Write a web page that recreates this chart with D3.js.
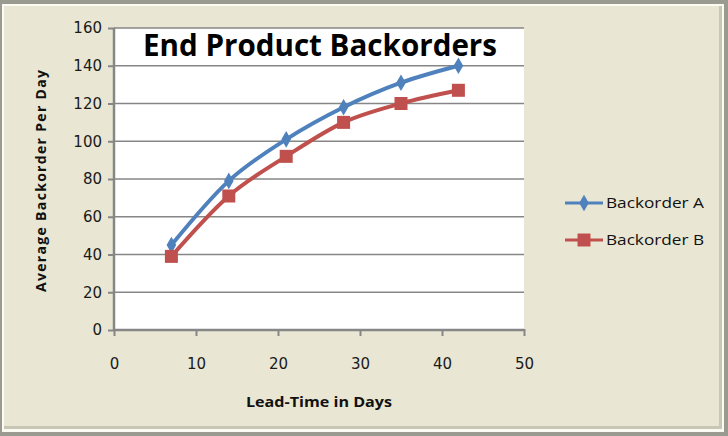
<!DOCTYPE html>
<html>
<head>
<meta charset="utf-8">
<script src="https://cdn.jsdelivr.net/npm/d3@7"></script>
<style>
  body { margin: 0; background: #fff; }
  text { font-family: "Open Sans", "DejaVu Sans", sans-serif; }
</style>
</head>
<body>
<div class="canvas"></div>
<script>
var W = 728, H = 436;
var margin = {top: 28, right: 204, bottom: 106, left: 114},
    width = W - margin.left - margin.right,
    height = H - margin.top - margin.bottom;

// data
var days = [7, 14, 21, 28, 35, 42];
var backorderA = [45, 79, 101, 118, 131, 140];
var backorderB = [39, 71, 92, 110, 120, 127];
var seriesNames = ["Backorder A", "Backorder B"];
var xTicks = [0, 10, 20, 30, 40, 50];
var yTicks = [0, 20, 40, 60, 80, 100, 120, 140, 160];

var colors = ["#4f81bd", "#c0504d"];

var svg = d3.select(".canvas").append("svg")
    .attr("width", W)
    .attr("height", H);

// frame
svg.append("rect").attr("x", 0).attr("y", 0).attr("width", W).attr("height", H)
    .attr("fill", "#9a9a90");
svg.append("rect").attr("x", 2).attr("y", 4).attr("width", W - 6).attr("height", H - 8)
    .attr("fill", "#fbfaf3");
svg.append("rect").attr("x", 4).attr("y", 6).attr("width", W - 10).attr("height", H - 13)
    .attr("fill", "#c8c6b4");
svg.append("rect").attr("x", 4).attr("y", 6).attr("width", W - 13).attr("height", H - 16)
    .attr("fill", "#e9e7d3");

var g = svg.append("g")
    .attr("transform", "translate(" + margin.left + "," + margin.top + ")");

var x = d3.scaleLinear().domain([0, 50]).range([0, width]);
var y = d3.scaleLinear().domain([0, 160]).range([height, 0]);

g.append("rect")
    .attr("width", width)
    .attr("height", height)
    .attr("fill", "#fff");

// gridlines
g.selectAll(".grid").data(yTicks.slice(1))
  .enter().append("line")
    .attr("class", "grid")
    .attr("x1", 0).attr("x2", width)
    .attr("y1", function(d) { return y(d); })
    .attr("y2", function(d) { return y(d); })
    .style("stroke", "#868686")
    .style("stroke-width", "1.5px");

var xAxis = g.append("g")
    .attr("transform", "translate(0," + height + ")")
    .call(d3.axisBottom(x).tickValues(xTicks).tickSize(6).tickPadding(22));
var yAxis = g.append("g")
    .call(d3.axisLeft(y).tickValues(yTicks).tickSize(6).tickPadding(6));

[xAxis, yAxis].forEach(function(a) {
  a.select(".domain").remove();
  a.selectAll("line").style("stroke", "#868686").style("stroke-width", "2px");
  a.selectAll("text").style("font-size", "15px").style("fill", "#1a1a1a")
    .style("font-family", "'DejaVu Sans', sans-serif");
});
xAxis.selectAll(".tick line").attr("y1", -1);
yAxis.selectAll(".tick line").attr("x1", 1);

g.append("line").attr("x1", 0).attr("x2", width).attr("y1", height).attr("y2", height)
    .style("stroke", "#868686").style("stroke-width", "2.5px");
g.append("line").attr("x1", 0).attr("x2", 0).attr("y1", 0).attr("y2", height)
    .style("stroke", "#868686").style("stroke-width", "2.5px");

// lines
var series = [backorderA, backorderB];
var line = d3.line()
    .x(function(d, i) { return x(days[i]); })
    .y(function(d) { return y(d); })
    .curve(d3.curveMonotoneX);

series.forEach(function(s, k) {
  g.append("path")
    .datum(s)
    .attr("d", line)
    .attr("fill", "none")
    .style("stroke", colors[k])
    .style("stroke-width", "4px");
});

var diamond = d3.symbol().type(d3.symbolDiamond).size(80);
g.selectAll(".markA").data(backorderA)
  .enter().append("path")
    .attr("class", "markA")
    .attr("transform", function(d, i) { return "translate(" + x(days[i]) + "," + y(d) + ")"; })
    .attr("d", diamond)
    .attr("fill", colors[0]);

g.selectAll(".markB").data(backorderB)
  .enter().append("rect")
    .attr("class", "markB")
    .attr("x", function(d, i) { return x(days[i]) - 6.5; })
    .attr("y", function(d) { return y(d) - 6.5; })
    .attr("width", 13)
    .attr("height", 13)
    .attr("fill", colors[1]);

// title
svg.append("text")
    .attr("x", 320)
    .attr("y", 56)
    .attr("text-anchor", "middle")
    .style("font-size", "31px")
    .style("font-weight", "bold")
    .style("font-family", "'Open Sans', sans-serif")
    .attr("textLength", 354)
    .attr("lengthAdjust", "spacingAndGlyphs")
    .style("fill", "#000")
    .text("End Product Backorders");

// axis titles
svg.append("text")
    .attr("x", margin.left + width / 2)
    .attr("y", 407)
    .attr("text-anchor", "middle")
    .style("font-size", "15px")
    .style("font-weight", "bold")
    .style("fill", "#111")
    .attr("textLength", 146)
    .attr("lengthAdjust", "spacingAndGlyphs")
    .text("Lead-Time in Days");

svg.append("text")
    .attr("transform", "translate(46,181) rotate(-90)")
    .attr("text-anchor", "middle")
    .style("font-size", "14px")
    .style("font-weight", "bold")
    .style("fill", "#111")
    .attr("textLength", 222)
    .text("Average Backorder  Per Day");

// legend
var legend = svg.selectAll(".legend").data(seriesNames)
  .enter().append("g")
    .attr("class", "legend")
    .attr("transform", function(d, i) { return "translate(565," + (203 + i * 37) + ")"; });

legend.append("line")
    .attr("x1", 0).attr("x2", 38)
    .style("stroke", function(d, i) { return colors[i]; })
    .style("stroke-width", "3px");
legend.append("path")
    .attr("transform", "translate(19,0)")
    .attr("d", function(d, i) { return i === 0 ? diamond() : "M-6.5,-6.5h13v13h-13z"; })
    .attr("fill", function(d, i) { return colors[i]; });
legend.append("text")
    .attr("x", 41)
    .attr("y", 5)
    .style("font-size", "15px")
    .style("fill", "#111")
    .attr("textLength", 98)
    .attr("lengthAdjust", "spacingAndGlyphs")
    .text(function(d) { return d; });
</script>
</body>
</html>
